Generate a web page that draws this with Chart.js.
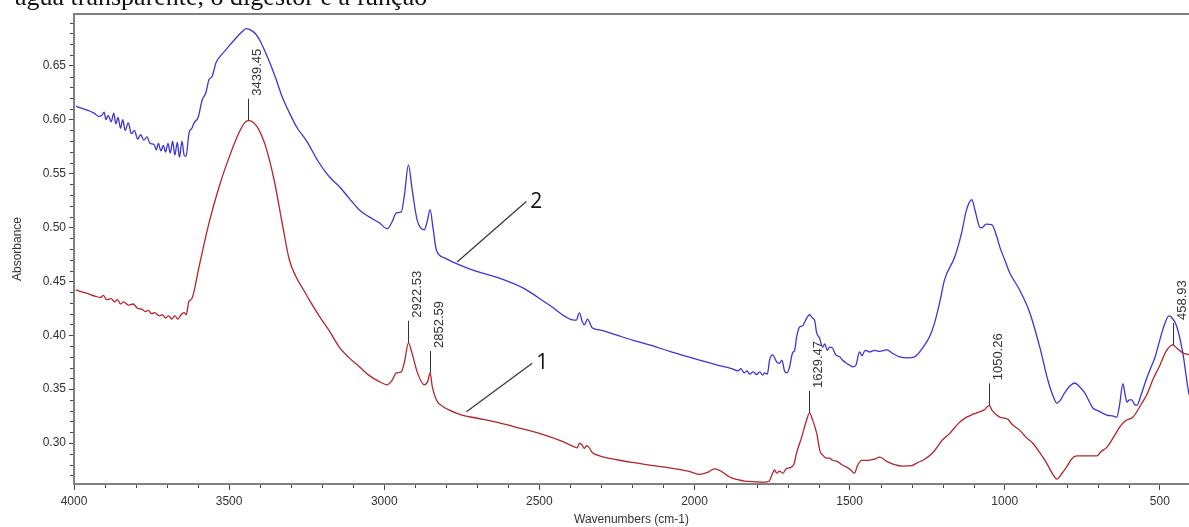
<!DOCTYPE html>
<html>
<head>
<meta charset="utf-8">
<script src="https://cdn.jsdelivr.net/npm/chart.js@4.4.1/dist/chart.umd.min.js"></script>
<style>
  html, body { margin: 0; padding: 0; background: #fff; overflow: hidden; }
  #wrap { position: relative; width: 1189px; height: 527px; }
  #ftir { position: absolute; left: 0; top: 0; }
  #caption { position: absolute; left: 15px; top: -18px; font-family: 'Liberation Serif', serif; font-size: 26px; color: #111; white-space: nowrap; }
</style>
</head>
<body>
<div id="wrap">
  <canvas id="ftir" width="1189" height="527"></canvas>
  <div id="caption">água transparente, o digestor e a função</div>
</div>
<script>
// curve 1 (red)
const waves1 = [3994, 3960, 3930, 3915, 3905, 3895, 3880, 3870, 3860, 3850, 3840, 3825, 3810, 3795, 3780, 3770, 3760, 3750, 3740, 3725, 3715, 3705, 3695, 3685, 3675, 3665, 3655, 3645, 3638, 3630, 3620, 3597, 3565, 3532, 3500, 3468, 3450, 3439, 3425, 3410, 3395, 3381, 3355, 3329, 3306, 3284, 3260, 3242, 3210, 3177, 3145, 3113, 3081, 3050, 3016, 2990, 2975, 2961, 2945, 2935, 2922, 2910, 2894, 2871, 2860, 2852, 2845, 2832, 2806, 2790, 2750, 2700, 2629, 2560, 2500, 2430, 2387, 2378, 2371, 2362, 2355, 2348, 2340, 2330, 2306, 2250, 2200, 2145, 2080, 2020, 1984, 1960, 1935, 1915, 1887, 1860, 1839, 1800, 1774, 1760, 1748, 1742, 1735, 1726, 1715, 1705, 1694, 1680, 1671, 1655, 1640, 1629, 1620, 1606, 1595, 1587, 1575, 1565, 1555, 1540, 1523, 1500, 1484, 1475, 1461, 1440, 1420, 1403, 1380, 1355, 1329, 1300, 1284, 1258, 1232, 1200, 1177, 1150, 1123, 1100, 1081, 1065, 1050, 1040, 1016, 1000, 990, 975, 952, 930, 910, 887, 865, 845, 832, 815, 800, 785, 768, 740, 703, 690, 671, 650, 629, 610, 587, 560, 540, 523, 500, 480, 459, 445, 426, 406];
const abs1 = [0.442, 0.439, 0.436, 0.435, 0.437, 0.433, 0.434, 0.431, 0.433, 0.429, 0.431, 0.428, 0.429, 0.425, 0.424, 0.422, 0.423, 0.420, 0.421, 0.418, 0.419, 0.416, 0.418, 0.415, 0.418, 0.415, 0.419, 0.421, 0.419, 0.431, 0.434, 0.4635, 0.504, 0.538, 0.565, 0.588, 0.597, 0.599, 0.598, 0.5935, 0.585, 0.574, 0.544, 0.504, 0.470, 0.454, 0.442, 0.433, 0.418, 0.404, 0.389, 0.379, 0.371, 0.363, 0.357, 0.354, 0.358, 0.365, 0.366, 0.375, 0.393, 0.383, 0.366, 0.354, 0.357, 0.365, 0.352, 0.340, 0.333, 0.3306, 0.326, 0.323, 0.3186, 0.3135, 0.309, 0.302, 0.2965, 0.2955, 0.300, 0.298, 0.295, 0.2975, 0.296, 0.2915, 0.288, 0.2845, 0.282, 0.2795, 0.277, 0.274, 0.271, 0.2725, 0.276, 0.274, 0.2685, 0.266, 0.2647, 0.264, 0.2637, 0.2645, 0.272, 0.275, 0.272, 0.274, 0.272, 0.276, 0.277, 0.280, 0.2907, 0.305, 0.320, 0.3279, 0.322, 0.309, 0.292, 0.289, 0.286, 0.286, 0.284, 0.283, 0.2796, 0.276, 0.272, 0.279, 0.284, 0.284, 0.285, 0.287, 0.283, 0.280, 0.2786, 0.279, 0.2814, 0.285, 0.291, 0.303, 0.309, 0.318, 0.324, 0.327, 0.329, 0.331, 0.335, 0.330, 0.324, 0.323, 0.322, 0.317, 0.312, 0.305, 0.300, 0.291, 0.2814, 0.271, 0.2666, 0.272, 0.278, 0.285, 0.288, 0.288, 0.288, 0.292, 0.296, 0.305, 0.315, 0.321, 0.324, 0.336, 0.346, 0.3585, 0.372, 0.385, 0.391, 0.388, 0.3836, 0.382];

// curve 2 (blue)
const waves2 = [3994, 3970, 3950, 3935, 3920, 3910, 3903, 3897, 3890, 3880, 3872, 3865, 3858, 3850, 3843, 3835, 3825, 3815, 3805, 3795, 3785, 3775, 3765, 3755, 3742, 3735, 3728, 3720, 3712, 3705, 3697, 3690, 3682, 3675, 3667, 3660, 3652, 3645, 3639, 3629, 3620, 3613, 3600, 3587, 3575, 3565, 3555, 3542, 3525, 3510, 3495, 3477, 3460, 3445, 3430, 3413, 3400, 3387, 3365, 3348, 3330, 3306, 3280, 3252, 3210, 3177, 3145, 3113, 3081, 3050, 3016, 2990, 2975, 2961, 2945, 2935, 2922, 2910, 2894, 2871, 2862, 2852, 2843, 2832, 2806, 2758, 2700, 2629, 2550, 2468, 2387, 2381, 2371, 2361, 2355, 2345, 2330, 2306, 2250, 2200, 2145, 2080, 2020, 1984, 1929, 1880, 1860, 1850, 1840, 1830, 1823, 1810, 1800, 1790, 1780, 1774, 1765, 1758, 1748, 1740, 1735, 1726, 1718, 1710, 1703, 1694, 1684, 1677, 1671, 1661, 1650, 1645, 1636, 1629, 1620, 1613, 1606, 1597, 1587, 1580, 1572, 1565, 1555, 1545, 1532, 1523, 1510, 1500, 1490, 1480, 1468, 1460, 1450, 1435, 1420, 1403, 1381, 1360, 1339, 1315, 1290, 1258, 1240, 1226, 1210, 1194, 1161, 1139, 1123, 1106, 1095, 1081, 1074, 1060, 1042, 1026, 1016, 1000, 984, 952, 919, 887, 861, 846, 832, 820, 806, 790, 774, 758, 742, 730, 716, 700, 671, 650, 639, 630, 619, 612, 606, 598, 590, 582, 574, 560, 545, 532, 515, 500, 485, 471, 460, 445, 426, 410, 406];
const abs2 = [0.6125, 0.610, 0.608, 0.606, 0.603, 0.604, 0.607, 0.600, 0.604, 0.598, 0.606, 0.596, 0.602, 0.592, 0.600, 0.590, 0.597, 0.587, 0.590, 0.582, 0.586, 0.581, 0.584, 0.578, 0.577, 0.572, 0.578, 0.571, 0.576, 0.570, 0.578, 0.569, 0.580, 0.567, 0.579, 0.565, 0.580, 0.567, 0.566, 0.588, 0.592, 0.597, 0.602, 0.618, 0.625, 0.637, 0.640, 0.653, 0.660, 0.665, 0.670, 0.676, 0.681, 0.6845, 0.683, 0.679, 0.673, 0.665, 0.650, 0.637, 0.622, 0.6065, 0.592, 0.581, 0.560, 0.547, 0.538, 0.527, 0.5165, 0.510, 0.5043, 0.4988, 0.505, 0.5136, 0.5145, 0.530, 0.558, 0.535, 0.507, 0.4978, 0.505, 0.5165, 0.500, 0.479, 0.4718, 0.4653, 0.459, 0.453, 0.4435, 0.428, 0.414, 0.414, 0.4207, 0.412, 0.4096, 0.415, 0.407, 0.405, 0.400, 0.3955, 0.391, 0.385, 0.380, 0.377, 0.3725, 0.369, 0.367, 0.369, 0.365, 0.367, 0.364, 0.366, 0.3635, 0.366, 0.363, 0.365, 0.364, 0.377, 0.3817, 0.378, 0.375, 0.374, 0.377, 0.367, 0.365, 0.370, 0.3836, 0.386, 0.398, 0.4077, 0.409, 0.412, 0.417, 0.419, 0.416, 0.414, 0.402, 0.3975, 0.389, 0.392, 0.386, 0.389, 0.388, 0.382, 0.380, 0.377, 0.374, 0.3724, 0.3706, 0.372, 0.3845, 0.381, 0.386, 0.3845, 0.386, 0.385, 0.3864, 0.383, 0.380, 0.379, 0.380, 0.391, 0.400, 0.4115, 0.430, 0.4514, 0.4728, 0.495, 0.5165, 0.5257, 0.515, 0.5006, 0.4997, 0.503, 0.5025, 0.492, 0.482, 0.470, 0.458, 0.442, 0.4207, 0.389, 0.3585, 0.345, 0.337, 0.340, 0.347, 0.353, 0.3557, 0.352, 0.3465, 0.340, 0.3325, 0.330, 0.326, 0.325, 0.324, 0.335, 0.355, 0.345, 0.338, 0.340, 0.340, 0.336, 0.335, 0.345, 0.358, 0.3678, 0.380, 0.3957, 0.410, 0.418, 0.416, 0.4077, 0.3836, 0.352, 0.345];

// peak labels (on curve 1)
const peakWaves = [3439.45, 2922.53, 2852.59, 1629.47, 1050.26, 458.93];
const peakAbs = [0.599, 0.393, 0.365, 0.3279, 0.335, 0.391];

// curve numbers with leader lines: [wavenumber, absorbance]
const curveNames = ['1', '2'];
const leaderFrom = [[2735, 0.329], [2765, 0.468]];
const leaderTo = [[2523, 0.374], [2542, 0.524]];

const xTicks = [4000, 3500, 3000, 2500, 2000, 1500, 1000, 500];
const yTicks = [0.30, 0.35, 0.40, 0.45, 0.50, 0.55, 0.60, 0.65];

const toPoints = (xs, ys) => xs.map((w, i) => ({ x: w, y: ys[i] }));
const axisFont = { family: "'Liberation Sans', Arial, sans-serif", size: 12 };

const decorations = {
    id: 'decorations',
    afterDatasetsDraw(chart) {
        const { ctx, chartArea: a, scales: { x, y } } = chart;
        const seg = (x1, y1, x2, y2) => { ctx.beginPath(); ctx.moveTo(x1, y1); ctx.lineTo(x2, y2); ctx.stroke(); };
        ctx.save();

        // top frame line
        ctx.strokeStyle = '#808080';
        ctx.lineWidth = 2;
        seg(a.left - 1, a.top, a.right, a.top);

        // minor ticks
        ctx.strokeStyle = '#444';
        ctx.lineWidth = 1;
        for (let w = 500; w <= 4000; w += 100) {
            if (w % 500 === 0) continue;
            const px = Math.round(x.getPixelForValue(w)) + 0.5;
            seg(px, a.bottom + 1, px, a.bottom + 4);
        }
        for (let k = 27; k <= 69; k++) {
            if (k % 5 === 0) continue;
            const py = Math.round(y.getPixelForValue(k / 100)) + 0.5;
            seg(a.left - 4, py, a.left - 1, py);
        }

        // peak markers
        ctx.strokeStyle = '#333';
        ctx.fillStyle = '#333';
        ctx.font = "13px 'Liberation Sans', Arial, sans-serif";
        peakWaves.forEach((w, i) => {
            const px = Math.round(x.getPixelForValue(w)) + 0.5;
            const py = y.getPixelForValue(peakAbs[i]);
            seg(px, py, px, py - 22);
            ctx.save();
            ctx.translate(px + 9, py - 25);
            ctx.rotate(-Math.PI / 2);
            ctx.textAlign = 'left';
            ctx.textBaseline = 'middle';
            ctx.fillText(w.toFixed(2), 0, 0);
            ctx.restore();
        });

        // curve numbers
        ctx.strokeStyle = '#3a3a3a';
        ctx.lineWidth = 1.3;
        ctx.fillStyle = '#111';
        ctx.font = "21px 'Open Sans', 'Liberation Sans', sans-serif";
        ctx.textAlign = 'left';
        ctx.textBaseline = 'middle';
        curveNames.forEach((name, i) => {
            const x1 = x.getPixelForValue(leaderFrom[i][0]), y1 = y.getPixelForValue(leaderFrom[i][1]);
            const x2 = x.getPixelForValue(leaderTo[i][0]), y2 = y.getPixelForValue(leaderTo[i][1]);
            seg(x1, y1, x2, y2);
            ctx.fillText(name, x2 + 4, y2);
        });
        ctx.restore();
    }
};

new Chart(document.getElementById('ftir'), {
    type: 'line',
    data: {
        datasets: [
            { label: '1', data: toPoints(waves1, abs1), borderColor: '#b0262c', borderWidth: 1.3, pointRadius: 0, cubicInterpolationMode: 'monotone' },
            { label: '2', data: toPoints(waves2, abs2), borderColor: '#3d35d4', borderWidth: 1.3, pointRadius: 0, cubicInterpolationMode: 'monotone' }
        ]
    },
    options: {
        responsive: false,
        devicePixelRatio: 1,
        animation: false,
        layout: { padding: { top: 14, right: 0, left: 0, bottom: 0 } },
        plugins: { legend: { display: false }, tooltip: { enabled: false } },
        scales: {
            x: {
                type: 'linear',
                reverse: true,
                min: 406,
                max: 4000,
                afterBuildTicks: s => { s.ticks = xTicks.map(v => ({ value: v })); },
                afterFit: s => { s.height = 43; },
                ticks: { autoSkip: false, maxRotation: 0, callback: v => String(v), font: axisFont, color: '#333', padding: 4 },
                grid: { drawOnChartArea: false, tickLength: 6, color: '#444' },
                border: { color: '#808080', width: 2 },
                title: { display: true, text: 'Wavenumbers (cm-1)', font: axisFont, color: '#333', padding: { top: 0, bottom: 0 } }
            },
            y: {
                min: 0.262,
                max: 0.698,
                afterBuildTicks: s => { s.ticks = yTicks.map(v => ({ value: v })); },
                afterFit: s => { s.width = 74; },
                ticks: { callback: v => v.toFixed(2), font: axisFont, color: '#333', padding: 3 },
                grid: { drawOnChartArea: false, tickLength: 5, color: '#444' },
                border: { color: '#808080', width: 2 },
                title: { display: true, text: 'Absorbance', font: axisFont, color: '#333', padding: { top: 10, bottom: 0 } }
            }
        }
    },
    plugins: [decorations]
});
</script>
</body>
</html>
